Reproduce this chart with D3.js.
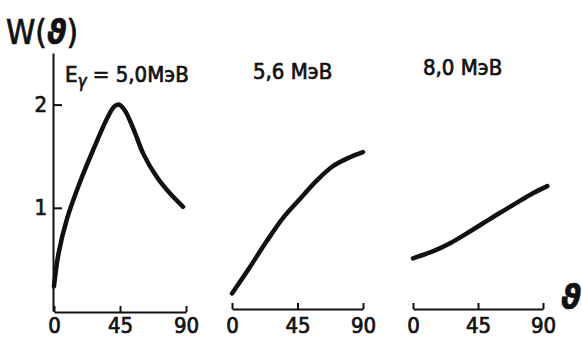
<!DOCTYPE html>
<html>
<head>
<meta charset="utf-8">
<script src="https://cdn.jsdelivr.net/npm/d3@7"></script>
<style>
  body { margin: 0; background: #fff; }
  svg text { font-family: "DejaVu Sans Condensed", "DejaVu Sans", sans-serif; fill: #111; stroke: #111; stroke-width: 0.7; }
  .axis path, .axis line { stroke: #111; stroke-width: 2; }
  .curve { fill: none; stroke: #111; stroke-width: 4.5; stroke-linecap: round; }
</style>
</head>
<body>
<svg id="chart" width="582" height="339"></svg>
<script>
// angle theta (deg) and W(theta), one array pair per energy
const energies = ["5,0МэВ", "5,6 МэВ", "8,0 МэВ"];
const theta50 = [0, 3, 9, 18, 27, 36, 41, 44, 48, 54, 61, 70, 79, 88];
const w50     = [0.24, 0.55, 0.9, 1.26, 1.57, 1.86, 1.98, 2.0, 1.95, 1.77, 1.52, 1.3, 1.14, 1.01];
const theta56 = [0, 12, 24, 35, 47, 58, 69, 81, 90];
const w56     = [0.17, 0.42, 0.68, 0.9, 1.09, 1.26, 1.4, 1.49, 1.54];
const theta80 = [0, 14, 26, 37, 48.5, 60, 72, 83, 93];
const w80     = [0.51, 0.58, 0.66, 0.75, 0.85, 0.95, 1.05, 1.14, 1.21];
const xTicks = [0, 45, 90];
const yTicks = [1, 2];

const svg = d3.select("#chart");

// shared vertical scale
const y = d3.scaleLinear().domain([0, 2.5]).range([311, 53]);

const panels = [
    {theta: theta50, w: w50, x0: 54, x1: 186, axisY: 312},
    {theta: theta56, w: w56, x0: 232, x1: 363, axisY: 309},
    {theta: theta80, w: w80, x0: 413, x1: 543, axisY: 309}
];

panels.forEach((p, i) => {
    const x = d3.scaleLinear().domain([0, 90]).range([p.x0, p.x1]);

    // x axis, ticks pointing up
    const ax = svg.append("g")
        .attr("class", "axis")
        .attr("transform", `translate(0,${p.axisY})`)
        .call(d3.axisBottom(x).tickValues(xTicks).tickSizeInner(-6).tickSizeOuter(0).tickPadding(p.axisY == 312 ? 5 : 8));
    ax.selectAll("text").attr("font-size", 22);

    const pts = p.theta.map((t, j) => [t, p.w[j]]);
    const line = d3.line()
        .x(d => x(d[0]))
        .y(d => y(d[1]))
        .curve(d3.curveCatmullRom);

    svg.append("path")
        .attr("class", "curve")
        .attr("d", line(pts));
});

// y axis only on the first panel
const ay = svg.append("g")
    .attr("class", "axis")
    .attr("transform", "translate(53,0)")
    .call(d3.axisLeft(y).tickValues(yTicks).tickSizeInner(-9).tickSizeOuter(0).tickPadding(6).tickFormat(d3.format("d")));
ay.selectAll("text").attr("font-size", 22);

// titles
const wt = svg.append("text").attr("x", 6).attr("y", 44).attr("font-size", 33);
wt.append("tspan").text("W(");
wt.append("tspan").attr("font-weight", "bold").attr("font-style", "italic").text("ϑ");
wt.append("tspan").text(")");

const t1 = svg.append("text").attr("x", 65).attr("y", 82).attr("font-size", 22);
t1.append("tspan").text("E");
t1.append("tspan").attr("font-size", 17).attr("dy", 5).attr("font-style", "italic").text("γ");
t1.append("tspan").attr("dy", -5).text(" = " + energies[0]);

svg.append("text").attr("x", 253).attr("y", 79).attr("font-size", 22).text(energies[1]);
svg.append("text").attr("x", 423).attr("y", 75).attr("font-size", 22).text(energies[2]);

svg.append("text").attr("x", 561).attr("y", 309).attr("font-size", 34)
    .attr("font-weight", "bold").attr("font-style", "italic").text("ϑ");
</script>
</body>
</html>
